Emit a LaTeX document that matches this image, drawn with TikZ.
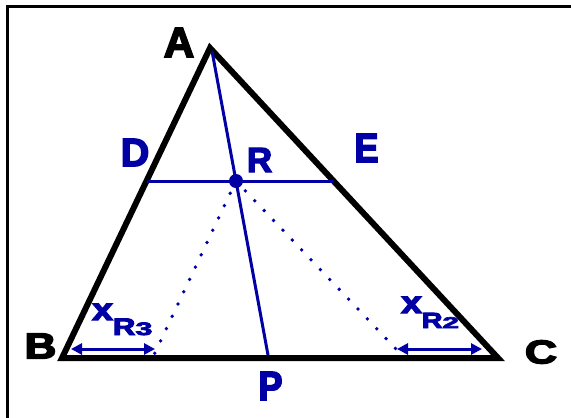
\documentclass[tikz,border=0pt]{standalone}
\usepackage{fontspec}
\newfontfamily\hv[BoldFont={Liberation Sans Bold},BoldFeatures={FakeBold=4}]{Liberation Sans}
\usetikzlibrary{arrows.meta}
\definecolor{dblue}{RGB}{0,0,165}
\newcommand{\fsz}[1]{\fontsize{#1}{#1}\selectfont}
\begin{document}
\begin{tikzpicture}[x=1pt,y=-1pt,
  lab/.style={inner sep=0pt, font=\hv\bfseries},
  blab/.style={lab, text=dblue},
  side/.style={line width=6pt, line join=miter},
  bl/.style={draw=dblue, line width=3pt},
  dots/.style={draw=dblue, line width=3.8pt, line cap=round, dash pattern=on 0pt off 13.6pt},
  meas/.style={draw=dblue, line width=3pt, {Triangle[length=11pt,width=11pt]}-{Triangle[length=11pt,width=11pt]}}
]
\useasboundingbox (0,0) rectangle (571,418);
% frame
\draw[line width=3pt] (7.5,430) -- (7.5,6.5) -- (590,6.5);
% points
\coordinate (A) at (210,48);
\coordinate (B) at (62,358);
\coordinate (C) at (498,358);
\coordinate (D) at (146.5,181);
\coordinate (E) at (333.6,181);
\coordinate (Ab) at (212,51);
\coordinate (R) at (236,181);
\coordinate (P) at (268,355);
\coordinate (Q3) at (154,355);
\coordinate (Q2) at (397,350);
\coordinate (L1) at (71,349);
\coordinate (L2) at (155,349);
\coordinate (M1) at (397,349);
\coordinate (M2) at (482,349);
% triangle
\draw[side] (A) -- (B) -- (C) -- cycle;
% blue lines
\draw[bl] (D) -- (E);
\draw[bl] (Ab) -- (R) -- (P);
\draw[dots] (R) -- (Q3);
\draw[dots] (R) -- (Q2);
\draw[meas] (L1) -- (L2);
\draw[meas] (M1) -- (M2);
\fill[dblue] (R) circle (7pt);
% labels
\node[lab] (lA) at (179,42.5) {\fsz{42}A};
\node[lab] (lB) at (40.5,346) {\scalebox{1.22}[1]{\fsz{36}B}};
\node[lab] (lC) at (541,352) {\scalebox{1.35}[1]{\fsz{33}C}};
\node[blab] (lD) at (135,152.5) {\fsz{39.5}D};
\node[blab] (lE) at (366.5,148) {\scalebox{0.88}[1]{\fsz{41}E}};
\node[blab] (lR) at (259.5,160) {\fsz{35}R};
\node[blab] (lP) at (270.5,386) {\scalebox{0.88}[1]{\fsz{41}P}};
\node[blab, anchor=base west] (lx3) at (92,320)
  {\scalebox{1.2}[1]{\fsz{31}x}\raisebox{-15pt}{\scalebox{1.3}[1]{\fsz{24}R}\scalebox{1.7}[1]{\fsz{18}3}}};
\node[blab, anchor=base west] (lx2) at (401,313)
  {\scalebox{1.2}[1]{\fsz{31}x}\raisebox{-15pt}{\scalebox{1.3}[1]{\fsz{22}R}\scalebox{1.9}[1]{\fsz{15.5}2}}};
\end{tikzpicture}
\end{document}
